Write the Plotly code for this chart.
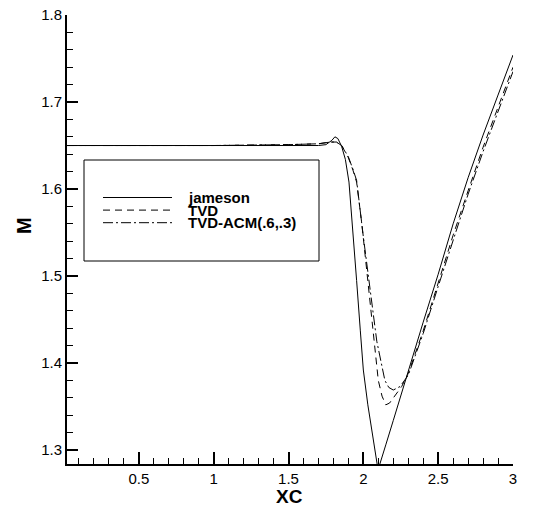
import plotly.graph_objects as go

# Mach number along the nozzle
jameson_x = [0.02, 0.5, 1.0, 1.5, 1.70, 1.75, 1.79, 1.81, 1.83, 1.855, 1.88, 1.904,
             1.93, 1.955, 1.98, 2.00, 2.03, 2.06, 2.08, 2.095, 2.105, 2.12, 2.15,
             2.20, 2.25, 2.30, 2.40, 2.50, 2.60, 2.70, 2.80, 2.90, 3.00]
jameson_m = [1.650, 1.650, 1.650, 1.650, 1.650, 1.651, 1.656, 1.660, 1.658, 1.649,
             1.634, 1.608, 1.555, 1.495, 1.437, 1.392, 1.352, 1.317, 1.294, 1.281,
             1.281, 1.290, 1.306, 1.334, 1.363, 1.392, 1.447, 1.502, 1.560, 1.613,
             1.662, 1.708, 1.754]

tvd_x = [0.02, 0.5, 1.0, 1.5, 1.70, 1.78, 1.82, 1.855, 1.90, 1.93, 1.955, 1.99,
         2.029, 2.06, 2.10, 2.125, 2.15, 2.175, 2.20, 2.256, 2.30, 2.40, 2.50,
         2.60, 2.70, 2.80, 2.90, 3.00]
tvd_m = [1.650, 1.650, 1.650, 1.651, 1.652, 1.654, 1.654, 1.650, 1.636, 1.622,
         1.608, 1.560, 1.495, 1.447, 1.380, 1.362, 1.352, 1.354, 1.360, 1.373,
         1.388, 1.437, 1.492, 1.547, 1.598, 1.648, 1.694, 1.740]

acm_x = [0.02, 0.5, 1.0, 1.5, 1.70, 1.78, 1.82, 1.855, 1.90, 1.93, 1.955, 2.00,
         2.044, 2.09, 2.144, 2.17, 2.20, 2.245, 2.30, 2.40, 2.50, 2.60, 2.70,
         2.80, 2.90, 3.00]
acm_m = [1.650, 1.650, 1.650, 1.651, 1.652, 1.654, 1.654, 1.650, 1.637, 1.623,
         1.610, 1.545, 1.484, 1.425, 1.380, 1.372, 1.369, 1.373, 1.386, 1.434,
         1.488, 1.542, 1.594, 1.643, 1.689, 1.735]

names = ["jameson", "TVD", "TVD-ACM(.6,.3)"]
dashes = ["solid", "7px,5px", "10px,3px,2px,3px"]

FONT = "Liberation Sans, Arial, sans-serif"
W, H = 535, 515
L, R, T, B = 67, 22, 15, 51

fig = go.Figure()
for xs, ys, name, dash in zip([jameson_x, tvd_x, acm_x], [jameson_m, tvd_m, acm_m], names, dashes):
    fig.add_trace(go.Scatter(x=xs, y=ys, mode="lines", name=name,
                             line=dict(color="black", width=1, dash=dash)))

axis_common = dict(showline=True, linecolor="black", linewidth=2, ticks="inside",
                   tickwidth=2, tickcolor="black", showgrid=False, zeroline=False,
                   automargin=False,
                   tickfont=dict(family=FONT, size=15, color="black"))
fig.update_xaxes(range=[0.02, 3.0], tick0=0, dtick=0.5, ticklen=12,
                 minor=dict(ticks="inside", dtick=0.1, tick0=0, ticklen=6, tickwidth=1, tickcolor="black"),
                 **axis_common)
fig.update_yaxes(range=[1.284, 1.8], tick0=0, dtick=0.1, ticklen=11,
                 minor=dict(ticks="inside", dtick=0.02, tick0=0, ticklen=6, tickwidth=1, tickcolor="black"),
                 **axis_common)

# hand-drawn legend box and axis titles, placed in pixels as in the reference
def px_x(p):
    return (p - L) / (W - L - R)

def px_y(p):
    return (H - B - p) / (H - T - B)

shapes = [dict(type="rect", xref="paper", yref="paper", x0=px_x(84), x1=px_x(319),
               y0=px_y(261), y1=px_y(160), line=dict(color="black", width=1),
               fillcolor="white", layer="above")]
annotations = []
for i, (name, dash) in enumerate(zip(names, dashes)):
    yy = px_y(197.5 + 12.6 * i)
    shapes.append(dict(type="line", xref="paper", yref="paper", x0=px_x(103), x1=px_x(172),
                       y0=yy, y1=yy, line=dict(color="black", width=1, dash=dash), layer="above"))
    annotations.append(dict(xref="paper", yref="paper", x=px_x(187), y=yy, text="<b>%s</b>" % name,
                            showarrow=False, xanchor="left", yanchor="middle",
                            borderpad=0, font=dict(family=FONT, size=15, color="black")))
annotations.append(dict(xref="paper", yref="paper", x=px_x(24), y=px_y(226), text="<b>M</b>",
                        showarrow=False, textangle=-90, xanchor="center", yanchor="middle",
                        font=dict(family=FONT, size=20, color="black")))
annotations.append(dict(xref="paper", yref="paper", x=px_x(289), y=px_y(496), text="<b>XC</b>",
                        showarrow=False, xanchor="center", yanchor="middle", borderpad=0,
                        font=dict(family=FONT, size=19, color="black")))

fig.update_layout(width=W, height=H, margin=dict(l=L, r=R, t=T, b=B),
                  paper_bgcolor="white", plot_bgcolor="white", showlegend=False,
                  shapes=shapes, annotations=annotations,
                  font=dict(family=FONT, color="black"))

fig.write_html("out.html", config={"displayModeBar": False},
               post_script="document.body.style.margin='0';")
